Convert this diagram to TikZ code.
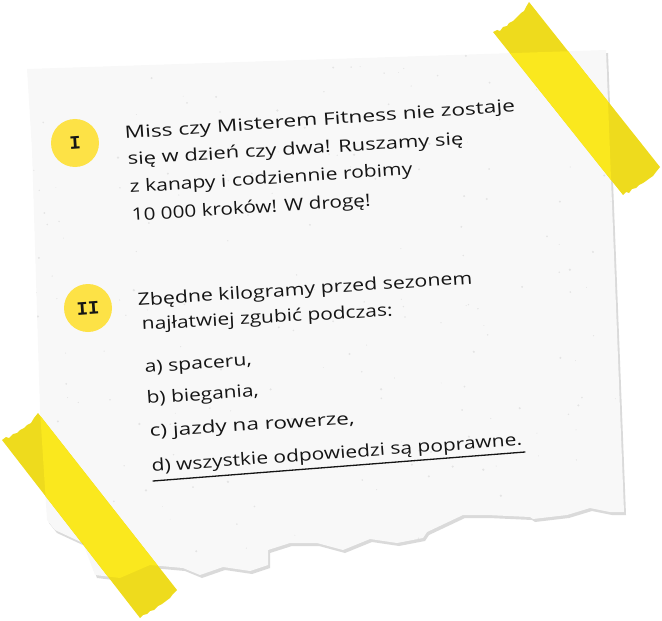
\documentclass[tikz,border=0pt]{standalone}
\usepackage{fontspec}
\setmainfont{Open Sans}
\newfontfamily\numfont{Liberation Mono}
\usepackage{graphicx}
\definecolor{paperc}{HTML}{F8F8F8}
\definecolor{shadowc}{HTML}{DADADA}
\definecolor{tapec}{HTML}{FAE81E}
\definecolor{tapedark}{HTML}{EEDB1D}
\definecolor{circc}{HTML}{FDE246}
\definecolor{inkc}{HTML}{151515}
\newcommand\fitline[2]{\resizebox{#1bp}{\height}{#2}}
\tikzset{
  hand/.style={font=\fontsize{17bp}{20bp}\selectfont, anchor=base west, inner sep=0pt, text=inkc},
  badge/.style={circle, fill=circc, minimum size=48bp, inner sep=0pt, text=inkc,
    font=\numfont\bfseries\fontsize{19bp}{19bp}\selectfont},
  speck/.style={fill=black, opacity=0.08}
}
\begin{document}
\begin{tikzpicture}[x=1bp,y=-1bp]
\useasboundingbox (0,0) rectangle (662,621);
\def\paperpath{(27,69) -- (606,50) -- (624,512) -- (610,512) -- (590,508) -- (567,515) -- (533,519) -- (530,517) -- (487,515) -- (463,515) -- (427,532) -- (423,538) -- (397,543) -- (370,539) -- (343,550) -- (317,543) -- (290,543) -- (268,550) -- (268,565) -- (250,571) -- (223,567) -- (200,575) -- (183,568) -- (150,565) -- (120,578) -- (95,575) -- (83,543) -- (55,530) -- (47,520) -- (40,410) -- (32,150) -- cycle}
\def\tapeA{(493,32) -- (497,30) -- (500,31) -- (503,27) -- (507,26) -- (509,23) -- (513,21) -- (516,18) -- (518,16) -- (521,13) -- (524,11) -- (526,7) -- (529,2) -- (660,167) -- (656,172) -- (653,176) -- (650,178) -- (646,181) -- (643,183) -- (639,185) -- (636,188) -- (632,189) -- (629,193) -- (626,192) -- (623,195) -- cycle}
\def\tapeB{(2,440) -- (6,437) -- (9,438) -- (13,434) -- (17,433) -- (20,430) -- (24,428) -- (27,425) -- (31,423) -- (34,418) -- (38,413) -- (177,590) -- (173,594) -- (170,598) -- (166,601) -- (162,604) -- (158,606) -- (154,610) -- (150,611) -- (147,614) -- (143,615) -- (140,618) -- cycle}
% paper with shadow
\fill[shadowc, shift={(2,3)}] \paperpath;
\fill[paperc] \paperpath;
% speckles
\begin{scope}
\clip \paperpath;
\pgfmathsetseed{11}
\foreach \i in {1,...,220} {
  \pgfmathsetmacro\px{30+590*rnd}
  \pgfmathsetmacro\py{55+510*rnd}
  \pgfmathsetmacro\pr{0.4+0.9*rnd}
  \fill[speck] (\px,\py) circle[radius=\pr];
}
\end{scope}
% badges
\node[badge] (b1) at (75,143) {\rotatebox{4}{I}};
\node[badge] (b2) at (88,308) {\rotatebox{4}{II}};
% block I
\node[hand, rotate=4] (t1) at (125,139) {\fitline{391}{Miss czy Misterem Fitness nie zostaje}};
\node[hand, rotate=3.5] (t2) at (128,165) {\fitline{336}{się w dzień czy dwa! Ruszamy się}};
\node[hand, rotate=3.7] (t3) at (130,193) {\fitline{283}{z kanapy i codziennie robimy}};
\node[hand, rotate=3.6] (t4) at (132,221) {\fitline{239}{10 000 kroków! W drogę!}};
% block II
\node[hand, rotate=3.8] (q1) at (138,306) {\fitline{335}{Zbędne kilogramy przed sezonem}};
\node[hand, rotate=3.2] (q2) at (142,330) {\fitline{251}{najłatwiej zgubić podczas:}};
\node[hand, rotate=4] (qa) at (145,373) {\fitline{107}{a) spaceru,}};
\node[hand, rotate=4] (qb) at (147,404) {\fitline{112}{b) biegania,}};
\node[hand, rotate=3.6] (qc) at (150,437) {\fitline{205}{c) jazdy na rowerze,}};
\node[hand, rotate=4.1] (qd) at (152,472) {\fitline{371}{d) wszystkie odpowiedzi są poprawne.}};
\coordinate (ulA) at (153,481);
\coordinate (ulB) at (525,452);
\draw[inkc, line width=1.3bp, line cap=round] (ulA) -- (ulB);
% tapes
\fill[tapedark] \tapeA;
\fill[tapedark] \tapeB;
\begin{scope}
\clip \paperpath;
\fill[tapec] \tapeA;
\fill[tapec] \tapeB;
\end{scope}
\end{tikzpicture}
\end{document}
